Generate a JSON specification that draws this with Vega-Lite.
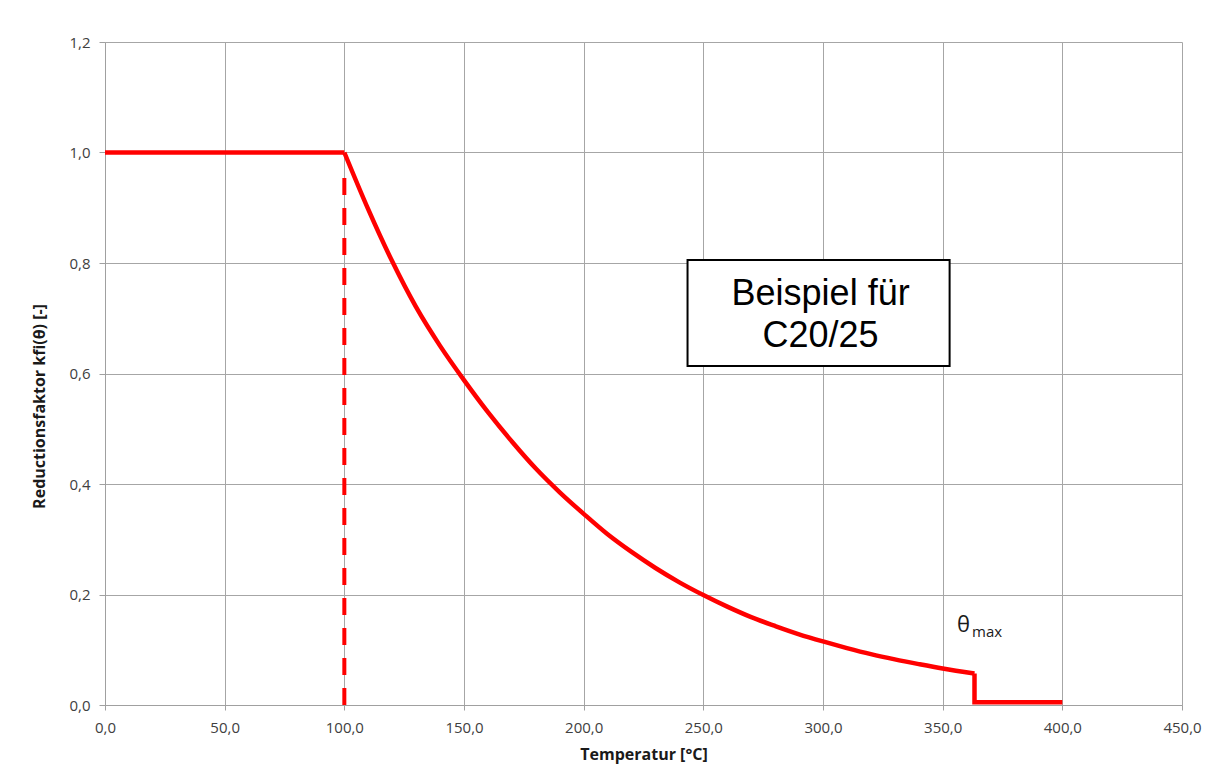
{
  "$schema": "https://vega.github.io/schema/vega-lite/v6.json",
  "width": 1077,
  "height": 663,
  "autosize": {"type": "none"},
  "padding": {"left": 105, "top": 42, "right": 25, "bottom": 76},
  "background": "white",
  "config": {"view": {"stroke": null}, "font": "Open Sans"},
  "datasets": {
    "flat": [{"T": 0, "k": 1.0}, {"T": 100, "k": 1.0}],
    "curve": [
      {"T": 100, "k": 1.0}, {"T": 110, "k": 0.897}, {"T": 120, "k": 0.803},
      {"T": 130, "k": 0.72}, {"T": 140, "k": 0.65}, {"T": 150, "k": 0.588}, {"T": 160, "k": 0.53},
      {"T": 170, "k": 0.477}, {"T": 180, "k": 0.428}, {"T": 190, "k": 0.385}, {"T": 200, "k": 0.346},
      {"T": 210, "k": 0.309}, {"T": 220, "k": 0.277}, {"T": 230, "k": 0.248}, {"T": 240, "k": 0.222},
      {"T": 250, "k": 0.199}, {"T": 260, "k": 0.178}, {"T": 270, "k": 0.159}, {"T": 280, "k": 0.143},
      {"T": 290, "k": 0.128}, {"T": 300, "k": 0.115}, {"T": 310, "k": 0.103}, {"T": 320, "k": 0.092},
      {"T": 330, "k": 0.0825}, {"T": 340, "k": 0.074}, {"T": 350, "k": 0.066}, {"T": 363.3, "k": 0.057}
    ],
    "step": [{"T": 363.3, "k": 0.057}, {"T": 363.3, "k": 0.005}, {"T": 400, "k": 0.005}],
    "dash": [{"T": 100, "k": 0.0}, {"T": 100, "k": 0.975}],
    "box": [{"T": 243.4, "T2": 352.9, "k": 0.6136, "k2": 0.8054}],
    "notes": [{"T": 299, "k": 0.724, "label": "Beispiel für"}, {"T": 299, "k": 0.6485, "label": "C20/25"}],
    "theta": [{"T": 356, "k": 0.1327, "label": "θ"}],
    "sub": [{"T": 362.3, "k": 0.1231, "label": "max"}]
  },
  "layer": [
    {
      "data": {"name": "flat"},
      "mark": {"type": "line", "color": "#ff0000", "strokeWidth": 4.5, "clip": false},
      "encoding": {
        "x": {
          "field": "T", "type": "quantitative",
          "scale": {"domain": [0, 450], "nice": false, "zero": false},
          "axis": {
            "title": "Temperatur [°C]",
            "values": [0, 50, 100, 150, 200, 250, 300, 350, 400, 450],
            "labelExpr": "replace(format(datum.value, '.1f'), '.', ',')",
            "grid": true, "gridColor": "#a6a6a6", "gridWidth": 1,
            "domainColor": "#a0a0a0", "tickColor": "#a0a0a0", "tickSize": 5,
            "labelFont": "Open Sans", "labelFontSize": 15, "labelColor": "#404040", "labelPadding": 10,
            "labelFlush": false,
            "titleFont": "Open Sans", "titleFontSize": 16, "titleFontWeight": "bold", "titleColor": "#1a1a1a",
            "titlePadding": 11
          }
        },
        "y": {
          "field": "k", "type": "quantitative",
          "scale": {"domain": [0, 1.2], "nice": false},
          "axis": {
            "title": "Reductionsfaktor kfi(θ) [-]",
            "values": [0, 0.2, 0.4, 0.6, 0.8, 1.0, 1.2],
            "labelExpr": "replace(format(datum.value, '.1f'), '.', ',')",
            "grid": true, "gridColor": "#a6a6a6", "gridWidth": 1,
            "domainColor": "#a0a0a0", "tickColor": "#a0a0a0", "tickSize": 6,
            "labelFont": "Open Sans", "labelFontSize": 15, "labelColor": "#404040", "labelPadding": 9,
            "labelFlush": false,
            "titleFont": "Open Sans", "titleFontSize": 16, "titleFontWeight": "bold", "titleColor": "#1a1a1a",
            "titlePadding": 21, "titleY": 364
          }
        },
        "order": {"value": null}
      }
    },
    {
      "data": {"name": "curve"},
      "mark": {"type": "line", "color": "#ff0000", "strokeWidth": 4.5, "interpolate": "monotone"},
      "encoding": {
        "x": {"field": "T", "type": "quantitative"},
        "y": {"field": "k", "type": "quantitative"}
      }
    },
    {
      "data": {"name": "step"},
      "mark": {"type": "line", "color": "#ff0000", "strokeWidth": 4.5},
      "encoding": {
        "x": {"field": "T", "type": "quantitative"},
        "y": {"field": "k", "type": "quantitative"},
        "order": {"value": null}
      }
    },
    {
      "data": {"name": "dash"},
      "mark": {"type": "line", "color": "#ff0000", "strokeWidth": 4, "strokeDash": [17, 13]},
      "encoding": {
        "x": {"field": "T", "type": "quantitative"},
        "y": {"field": "k", "type": "quantitative"},
        "order": {"value": null}
      }
    },
    {
      "data": {"name": "box"},
      "mark": {"type": "rect", "fill": "white", "stroke": "black", "strokeWidth": 2},
      "encoding": {
        "x": {"field": "T", "type": "quantitative"},
        "x2": {"field": "T2"},
        "y": {"field": "k", "type": "quantitative"},
        "y2": {"field": "k2"}
      }
    },
    {
      "data": {"name": "notes"},
      "mark": {"type": "text", "font": "Liberation Sans", "fontSize": 36, "align": "center", "baseline": "alphabetic", "color": "black"},
      "encoding": {
        "x": {"field": "T", "type": "quantitative"},
        "y": {"field": "k", "type": "quantitative"},
        "text": {"field": "label"}
      }
    },
    {
      "data": {"name": "theta"},
      "mark": {"type": "text", "font": "Open Sans", "fontSize": 22, "align": "left", "baseline": "alphabetic", "color": "#1a1a1a"},
      "encoding": {
        "x": {"field": "T", "type": "quantitative"},
        "y": {"field": "k", "type": "quantitative"},
        "text": {"field": "label"}
      }
    },
    {
      "data": {"name": "sub"},
      "mark": {"type": "text", "font": "Open Sans", "fontSize": 15, "align": "left", "baseline": "alphabetic", "color": "#1a1a1a"},
      "encoding": {
        "x": {"field": "T", "type": "quantitative"},
        "y": {"field": "k", "type": "quantitative"},
        "text": {"field": "label"}
      }
    }
  ]
}
